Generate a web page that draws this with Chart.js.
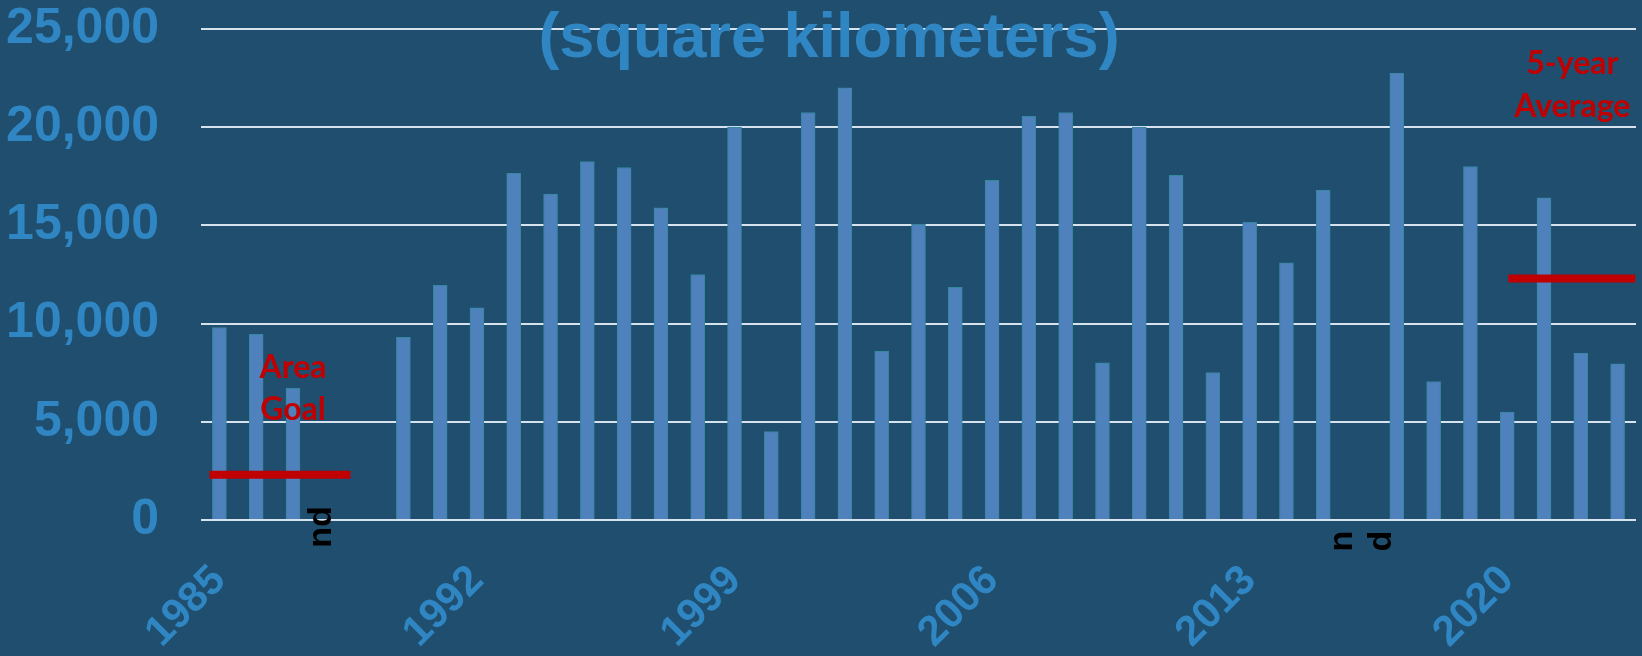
<!DOCTYPE html>
<html>
<head>
<meta charset="utf-8">
<title>Area (square kilometers)</title>
<script src="https://cdn.jsdelivr.net/npm/chart.js@4.4.1/dist/chart.umd.min.js"></script>
<style>
  html, body { margin: 0; padding: 0; background: #1f4e6f; overflow: hidden; }
  #wrap { position: relative; width: 1642px; height: 656px; }
</style>
</head>
<body>
<div id="wrap"><canvas id="areaChart"></canvas></div>
<script>
// ===== DATA =====
const years = ['1985','1986','1987','1988','1989','1990','1991','1992','1993','1994',
  '1995','1996','1997','1998','1999','2000','2001','2002','2003','2004',
  '2005','2006','2007','2008','2009','2010','2011','2012','2013','2014',
  '2015','2016','2017','2018','2019','2020','2021','2022','2023'];

// null = no data (nd)
const areaKm2 = [9800, 9450, 6700, null, null, 9300, 11950, 10800, 17650, 16600,
  18250, 17950, 15900, 12500, 20000, 4500, 20750, 22000, 8600, 15050,
  11850, 17300, 20550, 20750, 8000, 20000, 17550, 7500, 15150, 13100,
  16800, null, 22750, 7050, 18000, 5500, 16400, 8500, 7950];

const yTicks = [0, 5000, 10000, 15000, 20000, 25000];
const labelYears = ['1985', '1992', '1999', '2006', '2013', '2020'];

const areaGoal = 2300;
const fiveYearAvg = 12300;

// ===== COLOURS =====
const BG = '#1f4e6f';
const BLUE_TEXT = '#2f86c2';
const RED = '#c00000';

// drop the extra label padding so the plot area sits where we want it
const noPad = s => { s.paddingTop = 0; s.paddingBottom = 0; s.paddingLeft = 0; s.paddingRight = 0; };

// ===== EXTRA DRAWING: background, title, goal / average lines, notes =====
const notesPlugin = {
  id: 'notes',
  beforeDraw(chart) {
    const ctx = chart.ctx;
    ctx.save();
    ctx.fillStyle = BG;
    ctx.fillRect(0, 0, chart.width, chart.height);
    ctx.restore();
  },
  afterDatasetsDraw(chart) {
    const { ctx, scales: { x, y } } = chart;
    ctx.save();

    // red reference lines
    ctx.strokeStyle = RED;
    ctx.lineWidth = 8;
    const hline = (i0, i1, v) => {
      const py = y.getPixelForValue(v);
      ctx.beginPath();
      ctx.moveTo(x.getPixelForValue(i0), py);
      ctx.lineTo(x.getPixelForValue(i1), py);
      ctx.stroke();
    };
    hline(-0.27, 3.56, areaGoal);
    hline(35.03, 38.48, fiveYearAvg);

    // red labels
    ctx.fillStyle = RED;
    ctx.font = 'bold 32px Lato';
    ctx.textAlign = 'center';
    ctx.textBaseline = 'alphabetic';
    const gx = x.getPixelForValue(2);
    ctx.fillText('Area', gx, 378);
    ctx.fillText('Goal', gx, 420);
    const ax = x.getPixelForValue(36.77);
    ctx.fillText('5-year', ax, 74);
    ctx.fillText('Average', ax, 117);

    // "nd" notes, rotated
    ctx.fillStyle = '#000000';
    ctx.font = 'bold 34px "Liberation Sans"';
    ctx.textBaseline = 'middle';
    const rotText = (txt, px, py) => {
      ctx.save();
      ctx.translate(px, py);
      ctx.rotate(-Math.PI / 2);
      ctx.fillText(txt, 0, 0);
      ctx.restore();
    };
    rotText('nd', x.getPixelForValue(2.77), y.bottom + 7);
    rotText('n', x.getPixelForValue(30.54), y.bottom + 21);
    rotText('d', x.getPixelForValue(31.58), y.bottom + 21);

    ctx.restore();
  },
  afterDraw(chart) {
    const ctx = chart.ctx;
    ctx.save();
    ctx.fillStyle = BLUE_TEXT;
    ctx.font = 'bold 63px "Liberation Sans"';
    ctx.textAlign = 'center';
    ctx.textBaseline = 'alphabetic';
    ctx.fillText('(square kilometers)', 829, 57);
    ctx.restore();
  }
};

// ===== CHART =====
const el = document.getElementById('areaChart');
new Chart(el, {
  type: 'bar',
  data: {
    labels: years,
    datasets: [{
      label: 'Area',
      data: areaKm2,
      backgroundColor: '#4f81bd',
      borderColor: '#34879f',
      borderWidth: 1,
      barThickness: 14,
    }]
  },
  options: {
    responsive: true, maintainAspectRatio: false,
    animation: false,
    layout: { padding: { top: 29, right: 6, left: 0, bottom: 0 } },
    plugins: { legend: { display: false }, tooltip: { enabled: false }, title: { display: false } },
    scales: {
      x: {
        offset: true,
        grid: { display: false },
        border: { display: false },
        afterFit: s => { s.height = 136; noPad(s); },
        ticks: {
          autoSkip: false,
          maxRotation: 45, minRotation: 45,
          padding: 28,
          color: BLUE_TEXT,
          font: { family: 'Liberation Sans', size: 42, weight: 'bold' },
          callback: function (v, i) {
            const lab = this.getLabelForValue(v);
            return labelYears.includes(lab) ? lab : '';
          }
        }
      },
      y: {
        min: 0, max: 25000,
        afterBuildTicks: s => { s.ticks = yTicks.map(v => ({ value: v })); },
        afterFit: s => { s.width = 201; noPad(s); },
        grid: { color: '#d6e3ef', lineWidth: 2, drawTicks: false },
        border: { display: false },
        ticks: {
          padding: 42,
          color: BLUE_TEXT,
          font: { family: 'Liberation Sans', size: 50, weight: 'bold' },
          callback: v => v.toLocaleString('en-US')
        }
      }
    }
  },
  plugins: [notesPlugin]
});
</script>
</body>
</html>
